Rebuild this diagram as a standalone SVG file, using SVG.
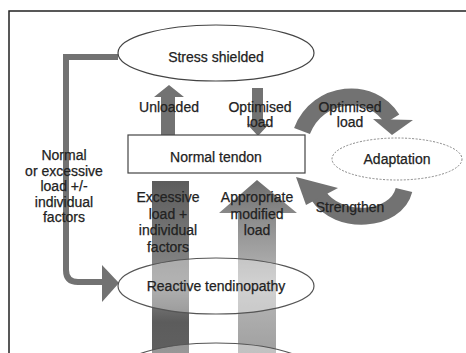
<svg xmlns="http://www.w3.org/2000/svg" width="466" height="353" viewBox="0 0 466 353">
<defs>
<style>
.t{font-family:"Liberation Sans",Arial,sans-serif;font-size:14px;fill:#222;stroke:#222;stroke-width:0.25;text-anchor:middle}
.node{fill:#fff;stroke:#444;stroke-width:1.2}
.arr{fill:#727272}
.band{fill:none;stroke:#727272;stroke-width:17}
.lead{fill:none;stroke:#727272;stroke-width:6}
</style>
<linearGradient id="gEx" gradientUnits="userSpaceOnUse" x1="0" y1="181" x2="0" y2="353">
<stop offset="0" stop-color="#5c5c5c"/>
<stop offset="0.4" stop-color="#7c7c7c"/>
<stop offset="0.6" stop-color="#8a8a8a"/>
<stop offset="0.82" stop-color="#5c5c5c"/>
<stop offset="1" stop-color="#606060"/>
</linearGradient>
<linearGradient id="gAp" gradientUnits="userSpaceOnUse" x1="0" y1="180" x2="0" y2="353">
<stop offset="0" stop-color="#6e6e6e"/>
<stop offset="0.2" stop-color="#8a8a8a"/>
<stop offset="0.6" stop-color="#b8b8b8"/>
<stop offset="1" stop-color="#a0a0a0"/>
</linearGradient>
</defs>
<rect width="466" height="353" fill="#fff"/>
<path d="M466 11 H9 V353" fill="none" stroke="#222" stroke-width="1.5"/>

<g id="connectors">
<rect id="bar-excessive" x="152" y="181" width="37" height="172" fill="url(#gEx)"/>
<path id="bar-appropriate" d="M238 353 V213 H219 L257 180 L297 213 H276 V353 Z" fill="url(#gAp)"/>
<path class="arr" d="M161 135 V97 H154 L169 85 L184 97 H175 V135 Z"/>
<path class="arr" d="M252 88 H263 V124 H269 L258 136 L247 124 H252 Z"/>
<path class="band" d="M302 131 C318 90, 372 86, 392 119"/>
<polygon class="arr" points="373,119 413,120 392,135"/>
<path class="band" d="M404 190 C396 222, 338 226, 318 195"/>
<polygon class="arr" points="296,177 338,188 306,205"/>
<path class="lead" d="M118 57 H66 V270 Q66 282 78 282 H104"/>
<polygon class="arr" points="102,265 119,283 102,302"/>
</g>

<g id="stress-shielded">
<ellipse class="node" cx="216" cy="53" rx="98" ry="28"/>
<text class="t" x="216" y="62">Stress shielded</text>
</g>
<g id="normal-tendon">
<rect class="node" x="128" y="135" width="177" height="38"/>
<text class="t" x="216" y="162">Normal tendon</text>
</g>
<g id="adaptation">
<ellipse cx="397" cy="159" rx="65" ry="21" fill="#fff" stroke="#888" stroke-width="1" stroke-dasharray="2 1.5"/>
<text class="t" x="397" y="164">Adaptation</text>
</g>
<g id="reactive-tendinopathy">
<ellipse cx="216" cy="286" rx="98" ry="28" fill="#fff" fill-opacity="0.35" stroke="#555" stroke-width="1.2"/>
<text class="t" x="216" y="291">Reactive tendinopathy</text>
</g>
<g id="bottom-node">
<ellipse cx="216" cy="372" rx="98" ry="29" fill="#fff" fill-opacity="0.35" stroke="#555" stroke-width="1.2"/>
</g>

<g id="labels">
<text class="t" x="169" y="112">Unloaded</text>
<text class="t" x="260" y="112">Optimised</text>
<text class="t" x="260" y="127">load</text>
<text class="t" x="350" y="112">Optimised</text>
<text class="t" x="350" y="127">load</text>
<text class="t" x="350" y="212">Strengthen</text>
<text class="t" x="168" y="202">Excessive</text>
<text class="t" x="168" y="218.5">load +</text>
<text class="t" x="168" y="235">individual</text>
<text class="t" x="168" y="251.5">factors</text>
<text class="t" x="257" y="202">Appropriate</text>
<text class="t" x="257" y="218.5">modified</text>
<text class="t" x="257" y="235">load</text>
<text class="t" x="64" y="160">Normal</text>
<text class="t" x="64" y="175.5">or excessive</text>
<text class="t" x="64" y="191">load +/-</text>
<text class="t" x="64" y="206.5">individual</text>
<text class="t" x="64" y="222">factors</text>
</g>
</svg>
